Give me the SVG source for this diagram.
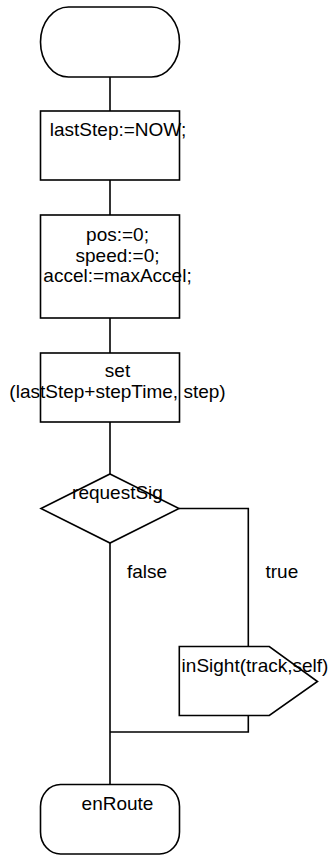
<svg xmlns="http://www.w3.org/2000/svg" width="331" height="856" viewBox="0 0 331 856">
<style>
.s{fill:#fff;stroke:#000;stroke-width:1.6}
.c{fill:none;stroke:#000;stroke-width:1.6}
text{font-family:"Liberation Sans",Arial,sans-serif;font-size:19px;fill:#000}
.m{text-anchor:middle}
</style>
<rect width="331" height="856" fill="#fff"/>
<g id="connectors">
<path class="c" d="M110,77 V111"/>
<path class="c" d="M110,180 V215"/>
<path class="c" d="M110,318 V353"/>
<path class="c" d="M110,422 V474"/>
<path class="c" d="M110,543 V784"/>
<path class="c" d="M179,508.5 H248.3 V646"/>
<path class="c" d="M248.3,715 V732 H110"/>
<text x="127" y="578">false</text>
<text x="265.5" y="578">true</text>
</g>
<g id="start">
<rect class="s" x="40.5" y="7" width="139" height="70" rx="28" ry="35"/>
</g>
<g id="box1">
<rect class="s" x="40.5" y="111" width="139" height="69"/>
<text class="m" x="118" y="136">lastStep:=NOW;</text>
</g>
<g id="box2">
<rect class="s" x="40.5" y="215" width="139" height="103"/>
<text class="m" x="117.5" y="241">pos:=0;</text>
<text class="m" x="117.5" y="261.5">speed:=0;</text>
<text class="m" x="117.5" y="282">accel:=maxAccel;</text>
</g>
<g id="box3">
<rect class="s" x="40.5" y="353" width="139" height="69"/>
<text class="m" x="117.5" y="377">set</text>
<text class="m" x="117.5" y="398">(lastStep+stepTime, step)</text>
</g>
<g id="decision">
<polygon class="s" points="110,474 179,508.5 110,543 41,508.5"/>
<text class="m" x="117.5" y="499">requestSig</text>
</g>
<g id="output">
<polygon class="s" points="179.3,646.5 269.3,646.5 317.5,681.5 269.3,715.5 179.3,715.5"/>
<text class="m" x="255" y="672">inSight(track,self)</text>
</g>
<g id="enRoute">
<rect class="s" x="40.5" y="784.5" width="139" height="69.5" rx="20" ry="22"/>
<text class="m" x="117.5" y="809.5">enRoute</text>
</g>
</svg>
